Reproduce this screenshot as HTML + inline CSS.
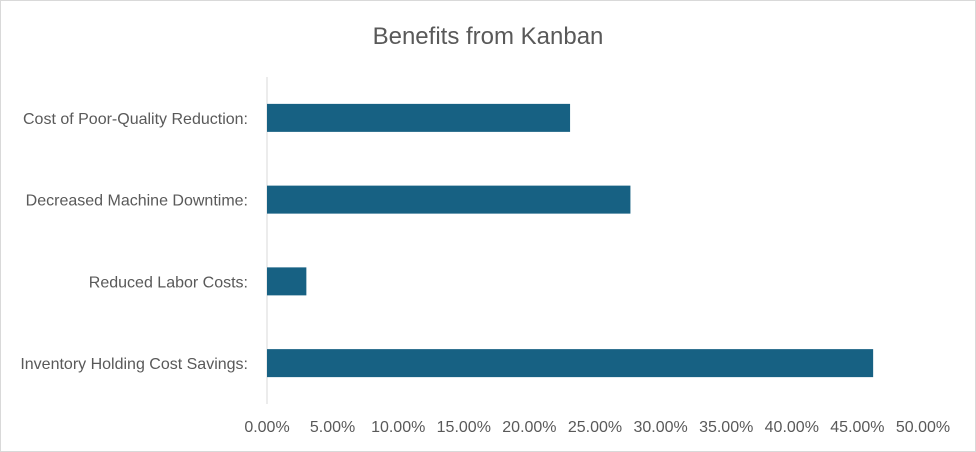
<!DOCTYPE html>
<html><head><meta charset="utf-8"><style>
body{margin:0;background:#fff;}
svg{display:block;font-family:"Liberation Sans",sans-serif;}
</style></head><body>
<svg id="chart" width="976" height="452">
<rect x="0.5" y="0.5" width="975" height="451" fill="#fff" stroke="#d9d9d9"/>
<text x="488" y="44" text-anchor="middle" font-size="24" fill="#595959">Benefits from Kanban</text>
<g id="plot"></g>
</svg>
<script>
const categories=["Cost of Poor-Quality Reduction:","Decreased Machine Downtime:","Reduced Labor Costs:","Inventory Holding Cost Savings:"];
const values=[23.1,27.7,3.0,46.2];
const ticks=[0,5,10,15,20,25,30,35,40,45,50];
const x0=267,x1=923,yTop=77,yBot=404,maxV=50;
const xs=v=>x0+(v/maxV)*(x1-x0);
const band=(yBot-yTop)/categories.length;
const ys=i=>yTop+band*i+band/2;
const ns="http://www.w3.org/2000/svg";
const g=document.getElementById('plot');
function mk(t,a){const e=document.createElementNS(ns,t);for(const k in a)e.setAttribute(k,a[k]);g.appendChild(e);return e;}
const ax=mk('line',{x1:x0,x2:x0,y1:yTop,y2:yBot,stroke:'#d9d9d9','stroke-width':1});


categories.forEach((c,i)=>{
  const bh=28;
  const r=mk('rect',{x:x0,y:ys(i)-bh/2,width:xs(values[i])-x0,height:bh,fill:'#176183'});
  
  
  const t=mk('text',{x:x0-19,y:ys(i)+6,'text-anchor':'end','font-size':16,fill:'#595959'});
  t.textContent=c;
  
  
});
ticks.forEach(v=>{
  const t=mk('text',{x:xs(v),y:432,'text-anchor':'middle','font-size':16,fill:'#595959'});
  t.textContent=v.toFixed(2)+'%';
  
  
});
</script>
</body></html>
